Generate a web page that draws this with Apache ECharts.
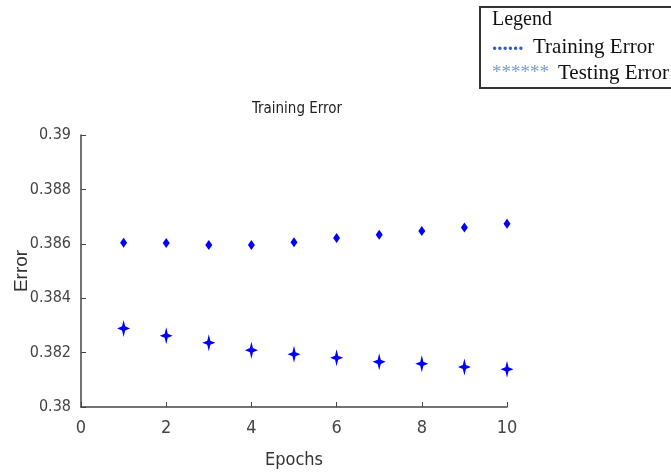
<!DOCTYPE html>
<html>
<head>
<meta charset="utf-8">
<script src="https://cdn.jsdelivr.net/npm/echarts@6/dist/echarts.min.js"></script>
<style>
html,body{margin:0;padding:0;background:#fff;}
#chart{width:671px;height:472px;}
</style>
</head>
<body>
<div id="chart"></div>
<script>
var epochs = [1, 2, 3, 4, 5, 6, 7, 8, 9, 10];
var trainingError = [0.38604, 0.38603, 0.38596, 0.38596, 0.38606, 0.38621, 0.38633, 0.38647, 0.3866, 0.38674];
var testingError = [0.38289, 0.38262, 0.38236, 0.38209, 0.38194, 0.38181, 0.38166, 0.38159, 0.38147, 0.38139];
var yTicks = ['0.38', '0.382', '0.384', '0.386', '0.388', '0.39'];
var xTicks = ['0', '2', '4', '6', '8', '10'];

function pairs(xs, ys) { return xs.map(function (x, i) { return [x, ys[i]]; }); }

var chart = echarts.init(document.getElementById('chart'), null, {renderer: 'canvas'});
var narrow = '"DejaVu Sans Condensed", "Liberation Sans", Arial, sans-serif';
var axisColor = '#444';
var starPath = 'path://M0,-10 L2.4,-2.4 L10,0 L2.4,2.4 L0,10 L-2.4,2.4 L-10,0 L-2.4,-2.4 Z';

chart.setOption({
  animation: false,
  backgroundColor: '#fff',
  title: {
    text: 'Training Error',
    left: 292, top: 97, textAlign: 'center',
    textStyle: {fontFamily: narrow, fontSize: 15, fontWeight: 'normal', color: '#222'}
  },
  grid: {left: 81, right: 164, top: 135, bottom: 65, containLabel: false, outerBoundsMode: 'none'},
  xAxis: {
    type: 'value', min: 0, max: 10, interval: 2,
    name: 'Epochs', nameLocation: 'middle', nameGap: 44, nameMoveOverlap: false,
    nameTextStyle: {fontFamily: narrow, fontSize: 18, color: '#333'},
    axisLine: {show: true, lineStyle: {color: axisColor, width: 1.5}},
    axisTick: {show: true, inside: true, length: 5, lineStyle: {color: axisColor}},
    splitLine: {show: false},
    axisLabel: {fontFamily: narrow, fontSize: 18, color: '#444', margin: 12,
      formatter: function (v) { return xTicks[Math.round(v / 2)]; }}
  },
  yAxis: {
    type: 'value', min: 0.38, max: 0.39, interval: 0.002,
    name: 'Error', nameLocation: 'middle', nameGap: 50, nameRotate: 90, nameMoveOverlap: false,
    nameTextStyle: {fontFamily: '"Liberation Sans", Arial, sans-serif', fontSize: 19, color: '#333'},
    axisLine: {show: true, lineStyle: {color: axisColor, width: 1.5}},
    axisTick: {show: true, inside: true, length: 5, lineStyle: {color: axisColor}},
    splitLine: {show: false},
    axisLabel: {fontFamily: narrow, fontSize: 16, color: '#444', margin: 10,
      formatter: function (v) { return yTicks[Math.round((v - 0.38) / 0.002)]; }}
  },
  series: [
    {
      name: 'Training Error', type: 'scatter',
      data: pairs(epochs, trainingError),
      symbol: 'diamond', symbolSize: [7, 10],
      itemStyle: {color: '#0000ff', opacity: 1}
    },
    {
      name: 'Testing Error', type: 'scatter',
      data: pairs(epochs, testingError),
      symbol: starPath, symbolSize: [13, 17],
      itemStyle: {color: '#0000ff', opacity: 1}
    }
  ],
  graphic: [
    {type: 'rect', shape: {x: 480, y: 7, width: 200, height: 81},
      style: {fill: '#fff', stroke: '#333', lineWidth: 2}},
    {type: 'text', left: 492, top: 10,
      style: {text: 'Legend', font: '20px "Liberation Serif", "Times New Roman", serif', fill: '#111'}},
    {type: 'text', left: 492, top: 34,
      style: {text: '......', font: 'bold 21px "Liberation Serif", serif', fill: '#3a5cc8'}},
    {type: 'text', left: 533, top: 37,
      style: {text: 'Training Error', font: '21px "Liberation Serif", "Times New Roman", serif', fill: '#111'}},
    {type: 'text', left: 492, top: 64,
      style: {text: '******', font: '19px "Liberation Serif", serif', fill: '#7b96e0'}},
    {type: 'text', left: 558, top: 63,
      style: {text: 'Testing Error', font: '21px "Liberation Serif", "Times New Roman", serif', fill: '#111'}}
  ]
});
</script>
</body>
</html>
